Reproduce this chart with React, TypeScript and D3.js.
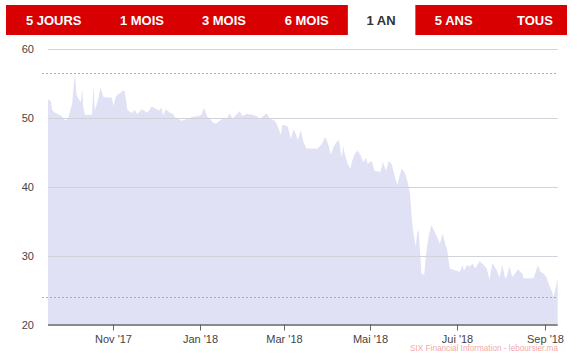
import React from "react";
import * as d3 from "d3";

// ---- data ----
const dates: string[] = [
  "2017-09-16","2017-09-18","2017-09-19","2017-09-21","2017-09-25","2017-09-28","2017-09-30",
  "2017-10-03","2017-10-05","2017-10-06","2017-10-07","2017-10-09","2017-10-10","2017-10-11","2017-10-12",
  "2017-10-17","2017-10-18","2017-10-19","2017-10-21","2017-10-23","2017-10-25","2017-10-27","2017-10-31",
  "2017-11-01","2017-11-03","2017-11-08","2017-11-09","2017-11-11","2017-11-14","2017-11-16","2017-11-18",
  "2017-11-21","2017-11-25","2017-11-28",
  "2017-12-03","2017-12-05","2017-12-06","2017-12-08","2017-12-11","2017-12-13","2017-12-15","2017-12-17",
  "2017-12-19","2017-12-20","2017-12-23","2017-12-27","2017-12-31",
  "2018-01-02","2018-01-04","2018-01-06","2018-01-08","2018-01-10","2018-01-12","2018-01-14","2018-01-16",
  "2018-01-20","2018-01-22","2018-01-24","2018-01-26","2018-01-29","2018-01-31",
  "2018-02-03","2018-02-07","2018-02-10","2018-02-12","2018-02-15","2018-02-17","2018-02-19","2018-02-23",
  "2018-02-25","2018-02-27","2018-02-28",
  "2018-03-03","2018-03-04","2018-03-06","2018-03-08","2018-03-10","2018-03-11","2018-03-13","2018-03-15",
  "2018-03-17","2018-03-25","2018-03-28","2018-03-30","2018-03-31",
  "2018-04-02","2018-04-03","2018-04-05","2018-04-07","2018-04-09","2018-04-10","2018-04-11","2018-04-12",
  "2018-04-13","2018-04-15","2018-04-17","2018-04-18","2018-04-20","2018-04-22","2018-04-24","2018-04-26",
  "2018-04-28","2018-04-29",
  "2018-05-02","2018-05-04","2018-05-08","2018-05-10","2018-05-12","2018-05-14","2018-05-16","2018-05-19",
  "2018-05-20","2018-05-23","2018-05-25","2018-05-27","2018-05-29","2018-05-30","2018-05-31",
  "2018-06-02","2018-06-03","2018-06-04","2018-06-05","2018-06-06","2018-06-08","2018-06-09","2018-06-11",
  "2018-06-13","2018-06-16","2018-06-19","2018-06-21","2018-06-23","2018-06-24","2018-06-26","2018-06-29",
  "2018-07-01","2018-07-03","2018-07-05","2018-07-06","2018-07-08","2018-07-10","2018-07-12","2018-07-14",
  "2018-07-17","2018-07-20","2018-07-22","2018-07-24","2018-07-26","2018-07-29","2018-07-31",
  "2018-08-02","2018-08-04","2018-08-05","2018-08-07","2018-08-09","2018-08-11","2018-08-13","2018-08-16",
  "2018-08-17","2018-08-24","2018-08-27","2018-08-29","2018-08-31",
  "2018-09-02","2018-09-04","2018-09-06","2018-09-07","2018-09-09","2018-09-10",
];

const values: number[] = [
  52.6, 52.4, 51.0, 50.7, 50.3, 49.6, 49.8,
  52.0, 56.5, 53.4, 52.9, 52.2, 54.1, 51.3, 50.4,
  50.4, 54.6, 51.0, 52.4, 54.3, 53.0, 52.9, 52.9,
  51.7, 53.1, 53.9, 53.8, 51.1, 50.6, 51.1, 50.5,
  51.2, 50.7, 51.6,
  51.0, 51.4, 50.3, 51.2, 50.7, 50.5, 49.9, 49.8,
  49.5, 49.6, 49.8, 50.1, 50.2,
  50.4, 51.4, 50.2, 49.8, 49.3, 49.1, 49.4, 49.7,
  49.9, 50.6, 49.8, 50.3, 50.9, 50.2,
  50.5, 50.4, 50.2, 49.7, 50.3, 50.6, 49.9, 49.5,
  48.6, 47.5, 48.9,
  48.8, 48.6, 46.9, 48.3, 47.4, 46.7, 48.1, 46.4,
  45.5, 45.5, 46.2, 47.1, 46.9,
  45.7, 44.6, 45.7, 46.4, 46.7, 45.2, 44.2, 45.9,
  44.7, 43.3, 42.6, 43.5, 44.7, 45.2, 44.6, 43.5,
  44.2, 43.3,
  43.7, 42.3, 42.1, 43.5, 42.3, 43.7, 43.3, 40.9,
  40.2, 42.6, 42.1, 40.9, 39.0, 36.1, 33.7,
  31.3, 33.2, 33.7, 30.8, 27.4, 27.2, 29.8, 32.7,
  34.4, 33.2, 31.7, 33.2, 31.5, 31.0, 28.1, 27.9,
  27.8, 27.6, 28.6, 27.8, 28.6, 28.4, 28.8, 28.1,
  29.2, 28.6, 28.1, 26.5, 28.9, 27.9, 26.8,
  28.6, 26.7, 26.9, 28.4, 26.9, 27.4, 28.0, 27.4,
  26.7, 26.7, 28.6, 27.6, 27.4,
  26.9, 25.7, 24.8, 24.0, 25.7, 26.7,
];

const yTicks: number[] = [20, 30, 40, 50, 60];
const xTickDates: string[] = ["2017-11-01", "2018-01-01", "2018-03-01", "2018-05-01", "2018-07-01", "2018-09-01"];
const xTickLabels: string[] = ["Nov '17", "Jan '18", "Mar '18", "Mai '18", "Jui '18", "Sep '18"];
const rangeButtons: string[] = ["5 JOURS", "1 MOIS", "3 MOIS", "6 MOIS", "1 AN", "5 ANS", "TOUS"];
const activeButton = "1 AN";
const sourceText = "SIX Financial Information - leboursier.ma";
const domainStart = "2017-09-16";
const domainEnd = "2018-09-10";

// ---- layout ----
const W = 578;
const H = 360;
const plotLeft = 48;
const plotRight = 557.7;
const plotTop = 48.5;
const plotBottom = 324.5;
const buttonCenters = [53.7, 142, 224, 306.7, 381, 453.7, 535];
const RED = "#d80000";

const parse = d3.timeParse("%Y-%m-%d");

export default function App() {
  const data = dates.map((d, i) => ({ date: parse(d) as Date, value: values[i] }));

  const x = d3
    .scaleTime()
    .domain([parse(domainStart) as Date, parse(domainEnd) as Date])
    .range([plotLeft, plotRight]);
  const y = d3.scaleLinear().domain([20, 60]).range([plotBottom, plotTop]);

  const area = d3
    .area<{ date: Date; value: number }>()
    .x((d) => x(d.date))
    .y0(y(20))
    .y1((d) => y(d.value));

  const [minV, maxV] = d3.extent(values) as [number, number];

  const activeIdx = rangeButtons.indexOf(activeButton);
  const leftRedEnd = (buttonCenters[activeIdx - 1] + buttonCenters[activeIdx]) / 2 + 4;
  const rightRedStart = (buttonCenters[activeIdx] + buttonCenters[activeIdx + 1]) / 2 - 2;

  const font = "'Liberation Sans', Arial, Helvetica, sans-serif";

  return (
    <svg
      width={W}
      height={H}
      viewBox={`0 0 ${W} ${H}`}
      style={{ position: "absolute", left: 0, top: 0, background: "#fff" }}
      fontFamily={font}
    >
      <rect x={0} y={0} width={W} height={H} fill="#fff" />

      {/* range selector */}
      <rect x={6} y={5} width={leftRedEnd - 6} height={30} fill={RED} />
      <rect x={rightRedStart} y={5} width={567 - rightRedStart} height={30} fill={RED} />
      {rangeButtons.map((b, i) => (
        <text
          key={b}
          x={buttonCenters[i]}
          y={24.5}
          textAnchor="middle"
          fontSize={13}
          fontWeight="bold"
          fill={b === activeButton ? "#333" : "#fff"}
        >
          {b}
        </text>
      ))}

      {/* area */}
      <path d={area(data) || ""} fill="#e1e1f5" stroke="none" />

      {/* grid lines */}
      {yTicks
        .filter((t) => t !== 20)
        .map((t) => (
          <line
            key={t}
            x1={plotLeft}
            x2={plotRight}
            y1={Math.round(y(t)) + 0.5}
            y2={Math.round(y(t)) + 0.5}
            stroke="#d2d2da"
            strokeWidth={1}
          />
        ))}

      {/* max / min dashed lines */}
      {[maxV, minV].map((v, i) => (
        <line
          key={i}
          x1={42}
          x2={plotRight}
          y1={Math.round(y(v)) + 0.5}
          y2={Math.round(y(v)) + 0.5}
          stroke="#aaaab2"
          strokeWidth={1}
          strokeDasharray="2,2"
        />
      ))}

      {/* y labels */}
      {yTicks.map((t) => (
        <text key={t} x={34} y={y(t) + 4} textAnchor="end" fontSize={11} fill="#444">
          {t}
        </text>
      ))}

      {/* x axis */}
      <line x1={plotLeft} x2={plotRight} y1={plotBottom + 0.5} y2={plotBottom + 0.5} stroke="#8a8a8a" strokeWidth={2} />
      {xTickDates.map((d, i) => {
        const xx = Math.round(x(parse(d) as Date)) + 0.5;
        return (
          <g key={d}>
            <line x1={xx} x2={xx} y1={plotBottom} y2={plotBottom + 6} stroke="#666" strokeWidth={1} />
            <text x={xx} y={343} textAnchor="middle" fontSize={11} fill="#444">
              {xTickLabels[i]}
            </text>
          </g>
        );
      })}

      {/* source */}
      <text x={558} y={351} textAnchor="end" fontSize={8.2} fill="#f2aaaa">
        {sourceText}
      </text>
    </svg>
  );
}
